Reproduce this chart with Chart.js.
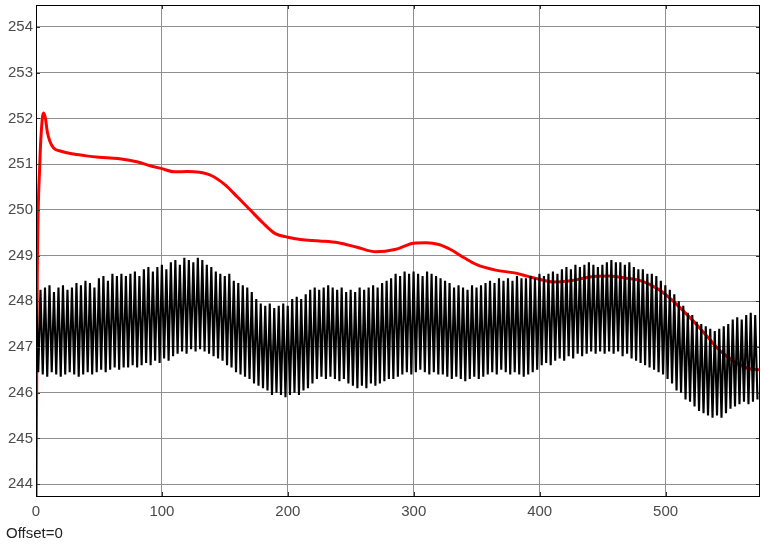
<!DOCTYPE html>
<html><head><meta charset="utf-8">
<script src="https://cdn.jsdelivr.net/npm/chart.js@4/dist/chart.umd.min.js"></script>
<style>html,body{margin:0;padding:0;background:#fff;}#wrap{position:relative;width:761px;height:544px;}</style>
</head><body><div id="wrap"><canvas id="c" width="761" height="544"></canvas></div>
<script>
// ---- data ----
const xTicks = [0, 100, 200, 300, 400, 500];
const yTicks = [244, 245, 246, 247, 248, 249, 250, 251, 252, 253, 254];
const xRange = [0, 575];
const yRange = [243.74, 254.48];

// red trace
const redX = [0, 1, 3, 5, 6, 7.5, 9, 11, 14, 20, 30, 40, 50, 65, 80, 90, 100, 110, 120, 130, 140, 150, 160, 170, 180, 190, 200, 210, 225, 240, 255, 270, 285, 300, 310, 320, 330, 340, 350, 365, 380, 390, 400, 411, 425, 440, 455, 470, 480, 494, 502, 510, 518, 526, 534, 542, 550, 558, 566, 575];
const redY = [243.5, 248.5, 251.0, 252.0, 252.12, 252.0, 251.7, 251.5, 251.35, 251.28, 251.22, 251.18, 251.15, 251.12, 251.05, 250.97, 250.9, 250.83, 250.84, 250.82, 250.74, 250.55, 250.28, 250.0, 249.72, 249.48, 249.4, 249.35, 249.32, 249.28, 249.18, 249.08, 249.13, 249.27, 249.28, 249.24, 249.12, 248.95, 248.8, 248.68, 248.62, 248.55, 248.48, 248.42, 248.45, 248.53, 248.55, 248.5, 248.45, 248.27, 248.1, 247.9, 247.68, 247.45, 247.2, 246.95, 246.77, 246.62, 246.53, 246.5];

// black oscillating trace: one crest and one trough per cycle
const blackPeriod = 3.57;
const blackHi = [
 248.3, 248.25, 248.3, 248.35, 248.2, 248.3, 248.35, 248.25, 248.3, 248.4,
 248.35, 248.45, 248.4, 248.3, 248.5, 248.55, 248.45, 248.6, 248.55, 248.6,
 248.55, 248.6, 248.65, 248.55, 248.7, 248.75, 248.65, 248.75, 248.8, 248.7,
 248.85, 248.9, 248.8, 248.95, 248.9, 248.85, 248.95, 248.9, 248.8, 248.75,
 248.65, 248.6, 248.55, 248.6, 248.45, 248.4, 248.35, 248.3, 248.2, 248.05,
 247.95, 247.9, 247.95, 247.85, 247.9, 247.95, 247.9, 248.05, 248.1, 248.05,
 248.15, 248.25, 248.3, 248.25, 248.3, 248.35, 248.3, 248.25, 248.3, 248.2,
 248.25, 248.2, 248.3, 248.25, 248.3, 248.35, 248.3, 248.4, 248.45, 248.5,
 248.6, 248.55, 248.65, 248.6, 248.65, 248.6, 248.55, 248.65, 248.6, 248.55,
 248.5, 248.45, 248.4, 248.3, 248.35, 248.3, 248.25, 248.35, 248.3, 248.35,
 248.4, 248.45, 248.4, 248.5, 248.45, 248.5, 248.45, 248.55, 248.5, 248.5,
 248.55, 248.5, 248.6, 248.55, 248.6, 248.65, 248.6, 248.7, 248.75, 248.7,
 248.8, 248.75, 248.8, 248.85, 248.8, 248.75, 248.8, 248.85, 248.9, 248.85,
 248.85, 248.8, 248.85, 248.75, 248.7, 248.7, 248.6, 248.6, 248.55, 248.45,
 248.35, 248.25, 248.15, 248.0, 247.9, 247.75, 247.7, 247.55, 247.5, 247.45,
 247.4, 247.35, 247.4, 247.45, 247.5, 247.6, 247.65, 247.6, 247.7, 247.75, 247.7
];
const blackLo = [
 246.45, 246.4, 246.35, 246.45, 246.4, 246.35, 246.4, 246.45, 246.4, 246.35,
 246.4, 246.45, 246.4, 246.45, 246.5, 246.45, 246.5, 246.55, 246.5, 246.55,
 246.55, 246.6, 246.55, 246.6, 246.65, 246.6, 246.7, 246.65, 246.75, 246.7,
 246.8, 246.85, 246.9, 246.85, 246.95, 246.9, 246.95, 246.9, 246.85, 246.8,
 246.75, 246.7, 246.6, 246.55, 246.45, 246.4, 246.35, 246.3, 246.2, 246.15,
 246.1, 246.05, 245.95, 246.0, 245.95, 245.9, 245.95, 246.0, 245.95, 246.05,
 246.1, 246.2, 246.3, 246.35, 246.3, 246.35, 246.3, 246.25, 246.3, 246.2,
 246.15, 246.1, 246.15, 246.1, 246.2, 246.15, 246.2, 246.25, 246.3, 246.3,
 246.35, 246.4, 246.45, 246.4, 246.45, 246.5, 246.45, 246.4, 246.45, 246.4,
 246.4, 246.35, 246.3, 246.35, 246.3, 246.25, 246.3, 246.35, 246.3, 246.35,
 246.4, 246.45, 246.4, 246.5, 246.45, 246.4, 246.45, 246.4, 246.35, 246.4,
 246.45, 246.5, 246.6, 246.65, 246.6, 246.7, 246.75, 246.7, 246.8, 246.75,
 246.85, 246.8, 246.85, 246.9, 246.85, 246.9, 246.85, 246.9, 246.85, 246.9,
 246.8, 246.85, 246.75, 246.7, 246.65, 246.6, 246.55, 246.5, 246.45, 246.4,
 246.3, 246.2, 246.05, 246.0, 245.85, 245.8, 245.7, 245.6, 245.55, 245.5,
 245.45, 245.5, 245.45, 245.55, 245.65, 245.7, 245.75, 245.8, 245.75, 245.8, 245.85
];
const footerText = 'Offset=0';

// ---- build datasets ----
const blackData = [];
blackHi.forEach((v, i) => {
  blackData.push({x: i * blackPeriod, y: v});
  blackData.push({x: i * blackPeriod + blackPeriod / 2, y: blackLo[i]});
});
const redData = redX.map((x, i) => ({x: x, y: redY[i]}));

const FONT = '"Liberation Sans", Arial, sans-serif';

const framePlugin = {
  id: 'frame',
  afterDatasetsDraw(chart) {
    const ctx = chart.ctx, a = chart.chartArea;
    const xs = chart.scales.x, ys = chart.scales.y;
    ctx.save();
    ctx.strokeStyle = '#333';
    ctx.lineWidth = 1;
    ctx.beginPath();
    xTicks.forEach(v => {
      const p = Math.round(xs.getPixelForValue(v)) + 0.5;
      ctx.moveTo(p, a.top); ctx.lineTo(p, a.top + 4);
      ctx.moveTo(p, a.bottom); ctx.lineTo(p, a.bottom - 4);
    });
    yTicks.forEach(v => {
      const p = Math.round(ys.getPixelForValue(v)) + 0.5;
      ctx.moveTo(a.left, p); ctx.lineTo(a.left + 4, p);
      ctx.moveTo(a.right, p); ctx.lineTo(a.right - 4, p);
    });
    ctx.stroke();
    ctx.strokeStyle = '#000';
    ctx.strokeRect(Math.round(a.left) + 0.5, Math.round(a.top) + 0.5,
                   Math.round(a.right - a.left) - 1, Math.round(a.bottom - a.top));
    ctx.fillStyle = '#222';
    ctx.font = '15px ' + FONT;
    ctx.textBaseline = 'middle';
    ctx.textAlign = 'left';
    ctx.fillText(footerText, 6, 534);
    ctx.restore();
  }
};

new Chart(document.getElementById('c'), {
  type: 'line',
  data: {
    datasets: [
      {data: blackData, borderColor: '#000', borderWidth: 2.1, pointRadius: 0, tension: 0, fill: false},
      {data: redData, borderColor: '#ff0000', borderWidth: 3, pointRadius: 0, cubicInterpolationMode: 'monotone', fill: false}
    ]
  },
  options: {
    responsive: false,
    animation: false,
    events: [],
    layout: {padding: {top: 5, right: 1, left: 0, bottom: 0}},
    plugins: {legend: {display: false}, tooltip: {enabled: false}},
    scales: {
      x: {
        type: 'linear', min: xRange[0], max: xRange[1],
        afterBuildTicks: s => { s.ticks = xTicks.map(v => ({value: v})); },
        afterFit: s => { s.height = 48; s.paddingLeft = 0; s.paddingRight = 0; },
        grid: {color: '#8f8f8f', lineWidth: 1, drawTicks: false},
        border: {display: false},
        ticks: {color: '#4a4a4a', font: {size: 15, family: FONT}, padding: 7, maxRotation: 0, autoSkip: false}
      },
      y: {
        type: 'linear', min: yRange[0], max: yRange[1],
        afterBuildTicks: s => { s.ticks = yTicks.map(v => ({value: v})); },
        afterFit: s => { s.width = 36; s.paddingTop = 0; s.paddingBottom = 0; },
        grid: {color: '#8f8f8f', lineWidth: 1, drawTicks: false},
        border: {display: false},
        ticks: {color: '#4a4a4a', font: {size: 15, family: FONT}, padding: 3, autoSkip: false}
      }
    }
  },
  plugins: [framePlugin]
});
</script></body></html>
